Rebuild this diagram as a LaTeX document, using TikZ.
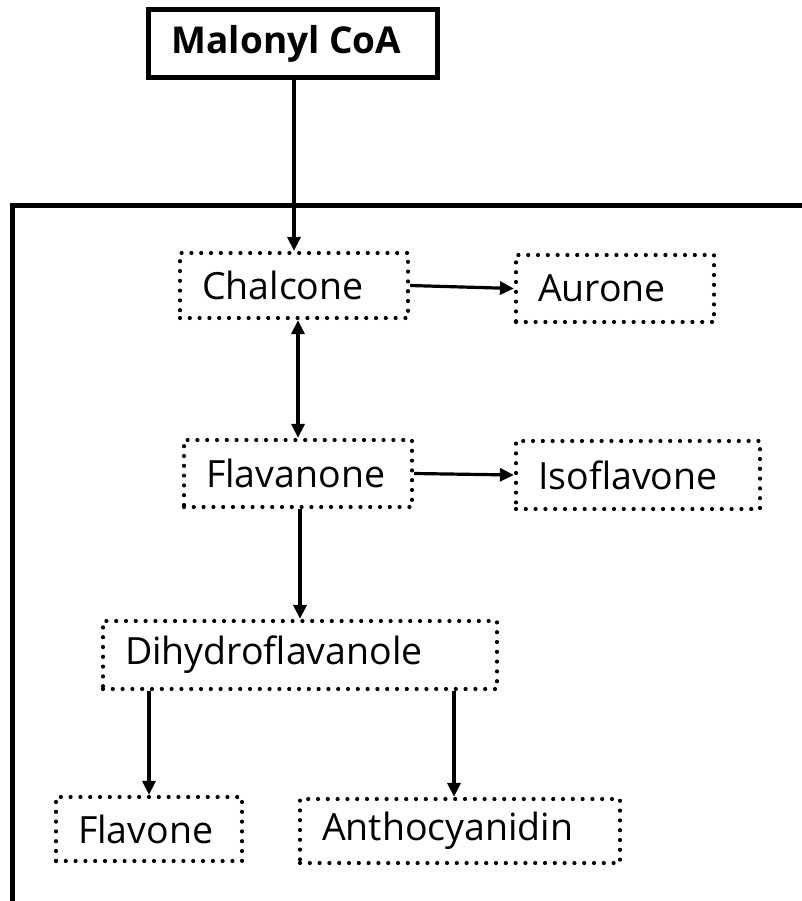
\documentclass[tikz,border=0pt]{standalone}
\usepackage{fontspec}
\setmainfont{Open Sans}
\usetikzlibrary{arrows.meta}
\begin{document}
\begin{tikzpicture}[x=1pt,y=1pt,
  dotbox/.style={draw, line width=4.2pt, dash pattern=on 0pt off 9.8pt, line cap=round,
    inner xsep=22pt, inner ysep=0pt, align=left, font=\fontsize{37.5}{42}\selectfont},
  solidbox/.style={draw, line width=5pt, inner sep=0pt, font=\bfseries\fontsize{37}{42}\selectfont},
  arr/.style={line width=3.2pt, -{Triangle[length=14pt,width=13pt]}},
  darr/.style={line width=3.2pt, {Triangle[length=14pt,width=13pt]}-{Triangle[length=14pt,width=13pt]}}]
\useasboundingbox (0,0) rectangle (802,-901);
\fill[white] (0,0) rectangle (802,-901);
\draw[line width=5pt] (802,-206) -- (12,-206) -- (12,-903);
\node[solidbox, minimum width=289pt, minimum height=68pt] (mal) at (292.5,-44) {\hspace*{-12pt}Malonyl CoA};
\node[dotbox, text width=184pt, minimum height=65pt] (chal) at (294,-285.5) {Chalcone};
\node[dotbox, text width=154pt, minimum height=67pt] (aur) at (615,-288.5) {Aurone};
\node[dotbox, text width=184pt, minimum height=67pt] (flav) at (298,-473.5) {Flavanone};
\node[dotbox, text width=200pt, minimum height=68pt] (iso) at (638,-475) {Isoflavone};
\node[dotbox, text width=350pt, minimum height=68pt] (dih) at (300,-655) {Dihydroflavanole};
\node[dotbox, text width=142pt, minimum height=64pt] (fl) at (149,-829) {Flavone};
\node[dotbox, text width=276pt, minimum height=64pt] (antho) at (460,-831) {Anthocyanidin};
\draw[arr] (mal.south -| chal.north) -- (chal.north);
\draw[arr] (chal.east) -- (aur.west);
\draw[darr] (flav.north |- chal.south) -- (flav.north);
\draw[arr] (flav.east) -- (iso.west);
\draw[arr] ([xshift=2pt]flav.south) -- ([xshift=2pt]flav.south |- dih.north);
\draw[arr] (fl.north |- dih.south) -- (fl.north);
\draw[arr] ([xshift=-6pt]antho.north |- dih.south) -- ([xshift=-6pt]antho.north);
\end{tikzpicture}
\end{document}
